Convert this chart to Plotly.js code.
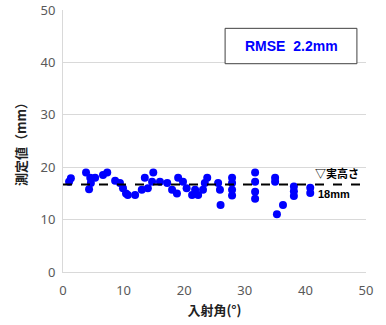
<!DOCTYPE html>
<html><head><meta charset="utf-8">
<script src="https://cdn.plot.ly/plotly-3.0.1.min.js"></script>
<style>body{margin:0;background:#fff}#c{width:386px;height:325px}</style>
</head><body><div id="c"></div>
<script>
var angles = [1,1.3,3.8,4.3,4.5,4.6,5.3,6.6,7.3,8.6,9.4,9.9,10.4,10.7,11.9,13,13.5,14,14.7,14.9,16,17.2,18,18.8,19,19.8,20.4,21.3,21.8,22.3,23.1,23.4,23.8,25.6,25.9,26,27.9,27.9,27.9,27.9,31.7,31.7,31.7,31.7,35,35,35.3,36.3,38.1,38.1,38.1,40.8,40.8];
var measured = [17.2,17.9,19,15.8,18,17,18,18.5,19,17.4,17,16,15,14.7,14.7,15.7,18,16,17.2,19,17.2,17,15.7,15,18,17.2,16,14.7,15.7,14.7,15.7,17,18,17,15.7,12.8,18,17,15.7,14.6,19,17.2,15.3,14,18,17.2,11,12.8,16.3,15.4,14.5,16.1,15.1];
var refX = [0,50];
var refY = [16.7,16.7];
var xTicks = [0,10,20,30,40,50];
var yTicks = [0,10,20,30,40,50];
var tickFont = {family:'"Noto Sans", "Liberation Sans", sans-serif', size:13, color:'#595959'};
var cjk = '"Noto Sans CJK JP", sans-serif';
Plotly.newPlot('c', [
  {x:angles, y:measured, type:'scatter', mode:'markers', marker:{color:'#0000FF', size:8}, hoverinfo:'none', cliponaxis:false},
  {x:refX, y:refY, type:'scatter', mode:'lines', line:{color:'#000', width:2, dash:'dash'}, hoverinfo:'none'}
], {
  width:386, height:325, showlegend:false,
  margin:{l:63, r:20, t:10, b:53},
  paper_bgcolor:'#fff', plot_bgcolor:'#fff',
  xaxis:{range:[0,50], tickvals:xTicks, showgrid:false, zeroline:false, showline:true, linecolor:'#d9d9d9', linewidth:1, ticks:'', tickfont:tickFont, ticklabelstandoff:6,
    title:{text:'<b>入射角(°)</b>', font:{family:cjk, size:13, color:'#222'}, standoff:8}},
  yaxis:{range:[0,50], tickvals:yTicks, showgrid:true, gridcolor:'#d9d9d9', zeroline:false, showline:true, linecolor:'#d9d9d9', ticks:'', tickfont:tickFont, ticklabelstandoff:4,
    title:{text:'<b>測定値（mm）</b>', font:{family:cjk, size:13, color:'#222'}, standoff:10}},
  shapes:[{type:'rect', xref:'paper', yref:'paper', x0:0.535, x1:0.97, y0:0.795, y1:0.93, line:{color:'#404040', width:1}, fillcolor:'#fff'}],
  annotations:[
    {xref:'paper', yref:'paper', x:0.755, y:0.864, xanchor:'center', yanchor:'middle', text:'<b>RMSE  2.2mm</b>', showarrow:false, font:{family:'"Liberation Sans", Arial, sans-serif', size:14, color:'#0000FF'}},
    {xref:'paper', x:0.985, y:17.0, xanchor:'right', yanchor:'bottom', text:'<b>▽実高さ</b>', showarrow:false, font:{family:cjk, size:11, color:'#000'}},
    {xref:'paper', x:0.955, y:16.4, xanchor:'right', yanchor:'top', text:'<b>18mm</b>', showarrow:false, font:{family:'"Liberation Sans", Arial, sans-serif', size:11, color:'#000'}}
  ]
}, {displayModeBar:false, staticPlot:true});
</script></body></html>
